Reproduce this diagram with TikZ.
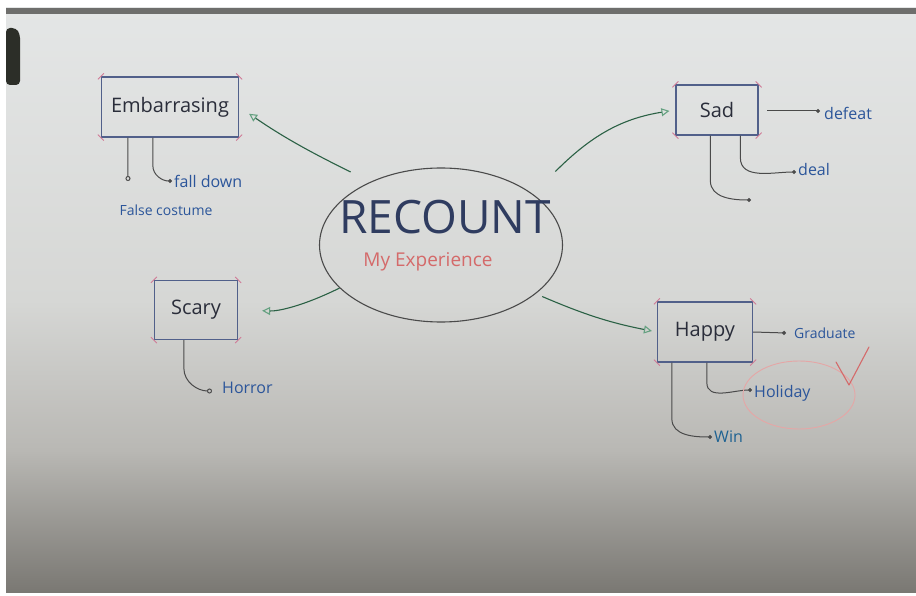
\documentclass[tikz,border=0pt]{standalone}
\usepackage{fontspec}
\setmainfont{Open Sans}
\usetikzlibrary{arrows.meta,shapes.geometric}
\definecolor{boxblue}{HTML}{51608A}
\definecolor{ink}{HTML}{2A2D3A}
\definecolor{navy}{HTML}{2F3C60}
\definecolor{redink}{HTML}{D46A6A}
\definecolor{blueink}{HTML}{2B559A}
\definecolor{greenink}{HTML}{3E8A62}
\definecolor{greyink}{HTML}{4A4A4A}
\definecolor{pinkink}{HTML}{D07A96}
\definecolor{boardtop}{HTML}{E4E6E6}
\definecolor{boardmid}{HTML}{D6D7D5}
\definecolor{boardlow}{HTML}{B9B8B4}
\definecolor{boardbot}{HTML}{7A7873}
\definecolor{frame}{HTML}{6E6E6C}
\definecolor{magnet}{HTML}{2C2E28}
\tikzset{
  topic/.style={draw=boxblue, line width=1.3pt, text=ink, font=\fontsize{20}{22}\selectfont, inner sep=0pt},
  garrow/.style={draw=greenink!70!black, line width=1.1pt, -{Triangle[open,length=8pt,width=8pt,color=greenink!80]}},
  leaf/.style={draw=greyink, line width=1pt, -{Circle[length=4pt]}},
  leafo/.style={draw=greyink, line width=1pt, -{Circle[open,length=5pt]}},
  leaftext/.style={text=blueink, font=\fontsize{16}{18}\selectfont, inner sep=2pt, anchor=west},
  corner/.style={draw=pinkink, line width=0.8pt},
}
\begin{document}
\begin{tikzpicture}[x=1pt,y=-1pt]
\useasboundingbox (0,0) rectangle (916,596);
\fill[white] (0,0) rectangle (916,596);
\shade[top color=boardtop, bottom color=boardmid] (6,8) rectangle (916,300);
\shade[top color=boardmid, bottom color=boardlow] (6,300) rectangle (916,450);
\shade[top color=boardlow, bottom color=boardbot] (6,450) rectangle (916,592);
\fill[frame] (6,8) rectangle (916,14);
\fill[magnet, rounded corners=4pt] (6,28) -- (16,28) -- (20,34) -- (20,85) -- (6,85) -- cycle;
% central ellipse
\node[ellipse, draw=greyink, line width=1.1pt, minimum width=243pt, minimum height=154pt] (el) at (441,245) {};
\node[text=navy, font=\fontsize{46}{48}\selectfont] (rec) at (445,217) {RECOUNT};
\node[text=redink, font=\fontsize{19}{21}\selectfont] (myexp) at (428,262) {My Experience};
% topics
\node[topic, minimum width=137pt, minimum height=60pt] (emb) at (170,107) {Embarrasing};
\node[topic, minimum width=82pt, minimum height=50pt] (sad) at (717,110) {Sad};
\node[topic, minimum width=83pt, minimum height=59pt] (scary) at (196,310) {Scary};
\node[topic, minimum width=95pt, minimum height=60pt] (happy) at (705,332) {Happy};
% corner ticks
\foreach \n in {emb,sad,scary,happy}{
  \draw[corner] ([shift={(-3,-3)}]\n.north east) -- ++(6,6);
  \draw[corner] ([shift={(-3,3)}]\n.south east) -- ++(6,-6);
  \draw[corner] ([shift={(-3,3)}]\n.north west) -- ++(6,-6);
  \draw[corner] ([shift={(-3,-3)}]\n.south west) -- ++(6,6);
}
% main arrows
\draw[garrow, shorten >=12pt] ([shift={(-15,-12)}]el.141) to[bend left=4] (emb.east);
\draw[garrow, shorten >=6pt] ([shift={(29,-18)}]el.33) to[bend left=18] (sad.west);
\draw[garrow, shorten >=24pt] (el.203) to[bend left=14] (scary.east);
\draw[garrow, shorten >=5pt] ([shift={(6,3)}]el.333) to[bend right=6] (happy.west);
% Embarrasing leaves
\coordinate (fcend) at (128,181);
\node[leaftext, anchor=center, font=\fontsize{14}{16}\selectfont] (fc) at (166,210) {False costume};
\draw[leafo] ([xshift=27]emb.south west) -- (fcend);
\node[leaftext] (fd) at (172,181) {fall down};
\draw[leaf] ([xshift=52]emb.south west) -- ++(0,28) to[out=-90,in=180] (fd.west);
% Sad leaves
\coordinate (sadr) at (767,111);
\node[leaftext] (defeat) at (822,113) {defeat};
\draw[leaf] (sadr) -- ([xshift=-2]defeat.west |- sadr);
\node[leaftext] (deal) at (796,170) {deal};
\draw[leaf] ([xshift=65]sad.south west) -- ++(0,22) to[out=-90,in=180] ([yshift=-2]deal.west);
\coordinate (sadend) at (751,200);
\draw[leaf] ([xshift=35]sad.south west) -- ++(0,45) to[out=-90,in=180] (sadend);
% Scary leaf
\node[leaftext] (horror) at (220,388) {Horror};
\draw[leafo] ([xshift=30]scary.south west) -- ++(0,28) to[out=-90,in=180] ([shift={(-8,3)}]horror.west);
% Happy leaves
\node[leaftext, font=\fontsize{14}{16}\selectfont] (grad) at (792,333) {Graduate};
\draw[leaf] (happy.east) -- ([xshift=-6]grad.west);
\node[leaftext] (hol) at (752,393) {Holiday};
\draw[leaf] ([xshift=50]happy.south west) -- ++(0,20) to[out=-90,in=180] ([yshift=3]hol.west);
\node[leaftext, text=blueink!70!teal] (win) at (712,437) {Win};
\draw[leaf] ([xshift=15]happy.south west) -- ++(0,56) to[out=-90,in=180] (win.west);
\node[ellipse, draw=redink!60, line width=0.9pt, minimum width=112pt, minimum height=68pt] (holring) at (799,395) {};
\coordinate (ck1) at (836,362);
\coordinate (ck2) at (849,385);
\coordinate (ck3) at (869,347);
\draw[draw=redink, line width=1.1pt, line cap=round, line join=round] (ck1) -- (ck2) -- (ck3);
\end{tikzpicture}
\end{document}
